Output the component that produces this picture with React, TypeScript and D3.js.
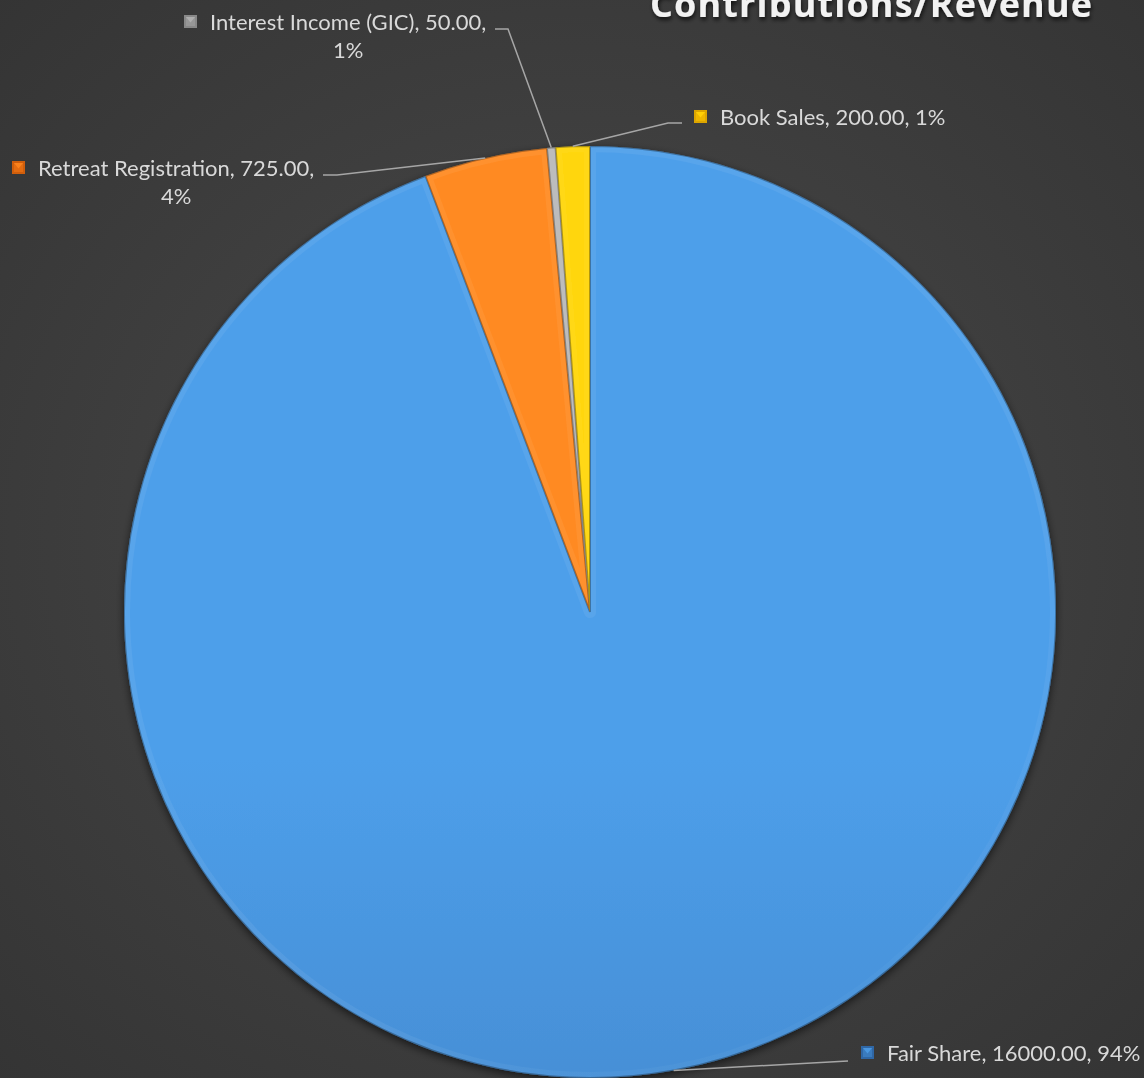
import React from "react";
import * as d3 from "d3";

const categories = ["Fair Share", "Retreat Registration", "Interest Income (GIC)", "Book Sales"];
const values = [16000, 725, 50, 200];
const percentLabels = ["94%", "4%", "1%", "1%"];
const title = "Contributions/Revenue";

const W = 1144;
const H = 1078;
const CX = 590;
const CY = 612;
const R = 466;

const colors = [
  { top: "#4e9fea", mid: "#468fd6", bot: "#2f67a6" },
  { top: "#ff8a22", mid: "#f77a16", bot: "#d05e0c" },
  { top: "#b8b8b8", mid: "#a5a5a5", bot: "#888888" },
  { top: "#ffd60a", mid: "#ffc800", bot: "#dca500" },
];

// label layout: where the text block sits and where the leader elbow is
const labelLayout = [
  { x: 887, y: 1061, lines: 1, elbow: [848, 1061], end: [848, 1061] },
  { x: 38, y: 176, lines: 2, elbow: [337, 175], end: [323, 175] },
  { x: 210, y: 30, lines: 2, elbow: [508, 29], end: [495, 29] },
  { x: 720, y: 125, lines: 1, elbow: [668, 123], end: [682, 123] },
];

export default function App() {
  const pie = d3.pie<number>().sort(null).value((d) => d)(values);
  const arc = d3.arc<d3.PieArcDatum<number>>().innerRadius(0).outerRadius(R);
  const font = "Lato, 'Open Sans', sans-serif";
  const fs = 22;

  return (
    <svg
      width={W}
      height={H}
      style={{ position: "fixed", left: 0, top: 0 }}
      xmlns="http://www.w3.org/2000/svg"
    >
      <defs>
        <radialGradient id="bg" cx="50%" cy="50%" r="75%">
          <stop offset="0%" stopColor="#4a4a4a" />
          <stop offset="100%" stopColor="#333333" />
        </radialGradient>
        {colors.map((c, i) => (
          <linearGradient key={i} id={`g${i}`} gradientUnits="userSpaceOnUse" x1={0} y1={CY - R} x2={0} y2={CY + R}>
            <stop offset="0%" stopColor={c.top} />
            <stop offset="35%" stopColor={c.mid} />
            <stop offset="100%" stopColor={c.bot} />
          </linearGradient>
        ))}
        <linearGradient id="bevel" gradientUnits="userSpaceOnUse" x1={CX - R} y1={CY - R} x2={CX + R * 0.6} y2={CY + R}>
          <stop offset="0%" stopColor="#ffffff" stopOpacity={0.06} />
          <stop offset="45%" stopColor="#ffffff" stopOpacity={0.0} />
          <stop offset="100%" stopColor="#000000" stopOpacity={0.3} />
        </linearGradient>
        {pie.map((p, i) => (
          <clipPath key={i} id={`c${i}`}>
            <path d={arc(p) || ""} transform={`translate(${CX},${CY})`} />
          </clipPath>
        ))}
        <filter id="shadow" x="-10%" y="-10%" width="120%" height="120%">
          <feGaussianBlur in="SourceAlpha" stdDeviation="4" />
          <feOffset dx="0" dy="3" result="b" />
          <feComponentTransfer>
            <feFuncA type="linear" slope="0.6" />
          </feComponentTransfer>
          <feMerge>
            <feMergeNode />
            <feMergeNode in="SourceGraphic" />
          </feMerge>
        </filter>
        <filter id="tshadow" x="-5%" y="-50%" width="110%" height="200%">
          <feGaussianBlur in="SourceAlpha" stdDeviation="2" />
          <feOffset dx="1" dy="3" />
          <feComponentTransfer>
            <feFuncA type="linear" slope="0.7" />
          </feComponentTransfer>
          <feMerge>
            <feMergeNode />
            <feMergeNode in="SourceGraphic" />
          </feMerge>
        </filter>
      </defs>

      <rect x={0} y={0} width={W} height={H} fill="url(#bg)" />

      <g filter="url(#shadow)">
        {pie.map((p, i) => (
          <g key={i}>
            <path d={arc(p) || ""} transform={`translate(${CX},${CY})`} fill={`url(#g${i})`} />
            <g clipPath={`url(#c${i})`}>
              <path
                d={arc(p) || ""}
                transform={`translate(${CX},${CY})`}
                fill="none"
                stroke="url(#bevel)"
                strokeWidth={12}
                strokeLinejoin="round"
              />
              <path
                d={arc(p) || ""}
                transform={`translate(${CX},${CY})`}
                fill="none"
                stroke="#000"
                strokeOpacity={0.3}
                strokeWidth={2}
              />
            </g>
          </g>
        ))}
      </g>

      {pie.map((p, i) => {
        const mid = (p.startAngle + p.endAngle) / 2;
        const ax = CX + R * Math.sin(mid);
        const ay = CY - R * Math.cos(mid);
        const L = labelLayout[i];
        const pts = [[ax, ay], L.elbow, L.end];
        const line = d3.line()(pts as [number, number][]) || "";
        return <path key={"l" + i} d={line} fill="none" stroke="#a6a6a6" strokeWidth={1.5} />;
      })}

      {pie.map((p, i) => {
        const L = labelLayout[i];
        const c = colors[i];
        const first =
          L.lines === 1
            ? `${categories[i]}, ${values[i].toFixed(2)}, ${percentLabels[i]}`
            : `${categories[i]}, ${values[i].toFixed(2)},`;
        const mx = L.x - 26;
        const my = L.y - 15;
        const ms = 13;
        return (
          <g key={"t" + i}>
            <rect x={mx} y={my} width={ms} height={ms} fill={c.bot} />
            <path d={`M${mx + 2},${my + 2}L${mx + ms - 2},${my + 2}L${mx + ms / 2},${my + ms / 2 + 1}Z`} fill={c.top} />
            <rect x={mx + 2} y={my + 2} width={ms - 4} height={ms - 4} fill={c.mid} opacity={0.5} />
            <text x={L.x} y={L.y} fill="#d9d9d9" fontFamily={font} fontSize={fs}>
              {first}
            </text>
            {L.lines === 2 && (
              <SecondLine x={L.x} y={L.y + 28} text={percentLabels[i]} font={font} fs={fs} />
            )}
          </g>
        );
      })}

      <text
        x={650}
        y={17}
        fill="#f2f2f2"
        fontFamily="'Open Sans', sans-serif"
        fontWeight={700}
        fontSize={36}
        textLength={442}
        lengthAdjust="spacing"
        filter="url(#tshadow)"
      >
        {title}
      </text>
    </svg>
  );
}

function SecondLine(props: { x: number; y: number; text: string; font: string; fs: number }) {
  const ref = React.useRef<SVGTextElement>(null);
  const [cx, setCx] = React.useState(props.x + 140);
  React.useEffect(() => {
    const sib = ref.current?.previousSibling as SVGTextElement | null;
    if (sib && sib.getComputedTextLength) {
      setCx(props.x + sib.getComputedTextLength() / 2);
    }
  }, []);
  return (
    <text ref={ref} x={cx} y={props.y} textAnchor="middle" fill="#d9d9d9" fontFamily={props.font} fontSize={props.fs}>
      {props.text}
    </text>
  );
}
